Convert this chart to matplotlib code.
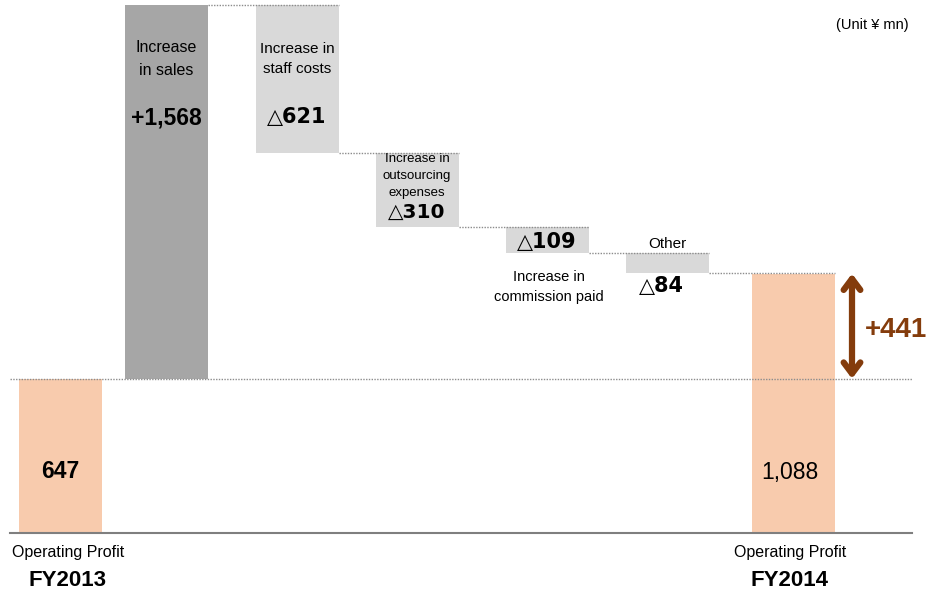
import numpy as np
import matplotlib.pyplot as plt

plt.rcParams['font.family'] = ['Liberation Sans', 'DejaVu Sans']

# data (Unit: yen mn)
fy2013 = 647
fy2014 = 1088
step_names = ["Increase\nin sales", "Increase in\nstaff costs", "Increase in\noutsourcing\nexpenses",
              "Increase in\ncommission paid", "Other"]
step_values = [1568, -621, -310, -109, -84]
step_labels = ["+1,568", "\u25b3621", "\u25b3310", "\u25b3109", "\u25b384"]
total_labels = ["647", "1,088"]
diff_label = "+441"

# layout (pixel-ish x positions)
x_pos = [60, 166, 297, 417, 547, 667, 793]
bar_w = 83
px = 0.2384  # pixels per unit

orange = '#F8CBAD'
dark_grey = '#A6A6A6'
light_grey = '#D9D9D9'
brown = '#843C0C'

fig = plt.figure(figsize=(9.42, 5.96), dpi=100)
ax = fig.add_axes([0, 0, 1, 1])
ax.set_xlim(0, 942)
ax.set_ylim((533 - 596) / px, 533 / px)
ax.axis('off')

# cumulative bottoms / tops
levels = np.concatenate([[fy2013], fy2013 + np.cumsum(step_values)])
bottoms = np.minimum(levels[:-1], levels[1:])
heights = np.abs(step_values)

ax.bar(x_pos[0], fy2013, width=bar_w, color=orange)
ax.bar(x_pos[-1], fy2014, width=bar_w, color=orange)
colors = [dark_grey] + [light_grey] * 4
ax.bar(x_pos[1:-1], heights, bottom=bottoms, width=bar_w, color=colors)

# baseline
ax.plot([10, 912], [0, 0], color='#7F7F7F', lw=1.5)

# connectors
dot = dict(color='#8C8C8C', lw=1, ls=(0, (1, 1)))
ax.plot([10, 912], [fy2013, fy2013], **dot)
for i in range(1, len(levels)):
    x0 = x_pos[i] + bar_w / 2
    x1 = x_pos[i + 1] + bar_w / 2
    ax.plot([x0, x1], [levels[i], levels[i]], **dot)

def py(y):
    return (533 - y) / px

tri = ['DejaVu Sans']

# texts in bars
ax.text(x_pos[1], py(59), step_names[0], ha='center', va='center', fontsize=11.5, linespacing=1.7)
ax.text(x_pos[1], py(118), step_labels[0], ha='center', va='center', fontsize=16.5, fontweight='bold')
ax.text(x_pos[2], py(59), step_names[1], ha='center', va='center', fontsize=11, linespacing=1.6)
ax.text(x_pos[2], py(117), step_labels[1], ha='center', va='center', fontsize=15, fontweight='bold', family=tri)
ax.text(x_pos[3], py(176), step_names[2], ha='center', va='center', fontsize=9.5, linespacing=1.55)
ax.text(x_pos[3], py(212), step_labels[2], ha='center', va='center', fontsize=14.5, fontweight='bold', family=tri)
ax.text(x_pos[4], py(242), step_labels[3], ha='center', va='center', fontsize=15, fontweight='bold', family=tri)
ax.text(x_pos[4] + 2, py(287), step_names[3], ha='center', va='center', fontsize=10.5, linespacing=1.6)
ax.text(x_pos[5], py(244), step_names[4], ha='center', va='center', fontsize=11)
ax.text(x_pos[5] - 6, py(286), step_labels[4], ha='center', va='center', fontsize=15, fontweight='bold', family=tri)

ax.text(x_pos[0], py(472), total_labels[0], ha='center', va='center', fontsize=16.5, fontweight='bold')
ax.text(x_pos[-1] - 3, py(472), total_labels[1], ha='center', va='center', fontsize=16.5)

# category labels
ax.text(68, py(552), "Operating Profit", ha='center', va='center', fontsize=11.5)
ax.text(67, py(580), "FY2013", ha='center', va='center', fontsize=16, fontweight='bold')
ax.text(790, py(552), "Operating Profit", ha='center', va='center', fontsize=11.5)
ax.text(790, py(580), "FY2014", ha='center', va='center', fontsize=16, fontweight='bold')

ax.text(872, py(25), "(Unit \u00a5 mn)", ha='center', va='center', fontsize=10.5)

# difference arrow
ax.annotate('', xy=(852, fy2014), xytext=(852, fy2013),
            arrowprops=dict(arrowstyle='<->,head_length=0.8,head_width=0.6', color=brown, lw=4.5,
                            shrinkA=0, shrinkB=0))
ax.text(896, py(330), diff_label, ha='center', va='center', fontsize=20, fontweight='bold', color=brown)

fig.savefig('out.png', dpi=100)
